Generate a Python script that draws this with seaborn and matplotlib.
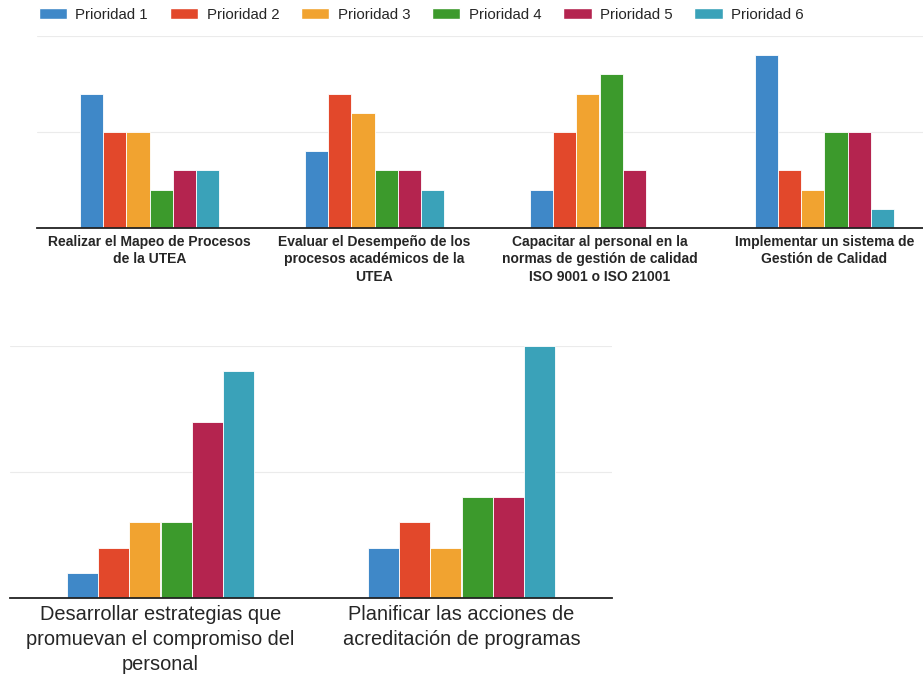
import matplotlib
matplotlib.use("Agg")
import matplotlib.pyplot as plt
from matplotlib.patches import Patch
import pandas as pd
import seaborn as sns

priorities = ["Prioridad 1", "Prioridad 2", "Prioridad 3",
              "Prioridad 4", "Prioridad 5", "Prioridad 6"]
colors = ["#3f88c8", "#e2482b", "#f1a330", "#3c9a2c", "#b4244f", "#3aa2b9"]

# upper chart: four actions
top_labels = [
    "Realizar el Mapeo de Procesos\nde la UTEA",
    "Evaluar el Desempeño de los\nprocesos académicos de la\nUTEA",
    "Capacitar al personal en la\nnormas de gestión de calidad\nISO 9001 o ISO 21001",
    "Implementar un sistema de\nGestión de Calidad",
]
top_p1 = [7, 4, 2, 9]
top_p2 = [5, 7, 5, 3]
top_p3 = [5, 6, 7, 2]
top_p4 = [2, 3, 8, 5]
top_p5 = [3, 3, 3, 5]
top_p6 = [3, 2, 0, 1]

# lower chart: two actions
bottom_labels = [
    "Desarrollar estrategias que\npromuevan el compromiso del\npersonal",
    "Planificar las acciones de\nacreditación de programas",
]
bottom_p1 = [1, 2]
bottom_p2 = [2, 3]
bottom_p3 = [3, 2]
bottom_p4 = [3, 4]
bottom_p5 = [7, 4]
bottom_p6 = [9, 10]


def long_frame(labels, series):
    rows = []
    for prio, values in zip(priorities, series):
        for lab, v in zip(labels, values):
            rows.append({"accion": lab, "prioridad": prio, "valor": v})
    return pd.DataFrame(rows)


def draw_panel(ax, df, labels, fontsize, weight, linespacing):
    sns.barplot(data=df, x="accion", y="valor", hue="prioridad",
                order=labels, hue_order=priorities, palette=colors,
                width=0.62, saturation=1, edgecolor="white", linewidth=0.6,
                legend=False, ax=ax)
    ax.set_ylim(0, 10)
    ax.set_yticks([0, 5, 10])
    ax.yaxis.grid(True, color="#ebebeb", linewidth=0.8)
    ax.set_axisbelow(True)
    ax.set(xlabel="", ylabel="", yticklabels=[])
    ax.tick_params(axis="y", length=0)
    ax.tick_params(axis="x", length=0, pad=5, labelsize=fontsize)
    sns.despine(ax=ax, left=True)
    ax.spines["bottom"].set_color("#222222")
    ax.spines["bottom"].set_linewidth(1.3)
    for t in ax.get_xticklabels():
        t.set_fontweight(weight)
        t.set_linespacing(linespacing)


sns.set_style("white")
plt.rcParams["font.family"] = ["Liberation Sans", "DejaVu Sans"]

fig = plt.figure(figsize=(9.23, 6.78), dpi=100)
ax_top = fig.add_axes([37 / 923, 1 - 228 / 678, 900 / 923, 192 / 678])
ax_bot = fig.add_axes([10 / 923, 1 - 598 / 678, 602 / 923, 252 / 678])

draw_panel(ax_top, long_frame(top_labels, [top_p1, top_p2, top_p3, top_p4, top_p5, top_p6]),
           top_labels, 10, "bold", 1.3)
draw_panel(ax_bot, long_frame(bottom_labels, [bottom_p1, bottom_p2, bottom_p3, bottom_p4, bottom_p5, bottom_p6]),
           bottom_labels, 14.4, "normal", 1.4)

handles = [Patch(facecolor=c, label=p) for c, p in zip(colors, priorities)]
fig.legend(handles=handles, loc="upper left", bbox_to_anchor=(0.037, 0.995),
           ncol=6, frameon=False, fontsize=10.8, handlelength=1.9,
           handleheight=0.75, handletextpad=0.55, columnspacing=1.45,
           borderaxespad=0, borderpad=0.3)

fig.savefig("out.png", dpi=100)
